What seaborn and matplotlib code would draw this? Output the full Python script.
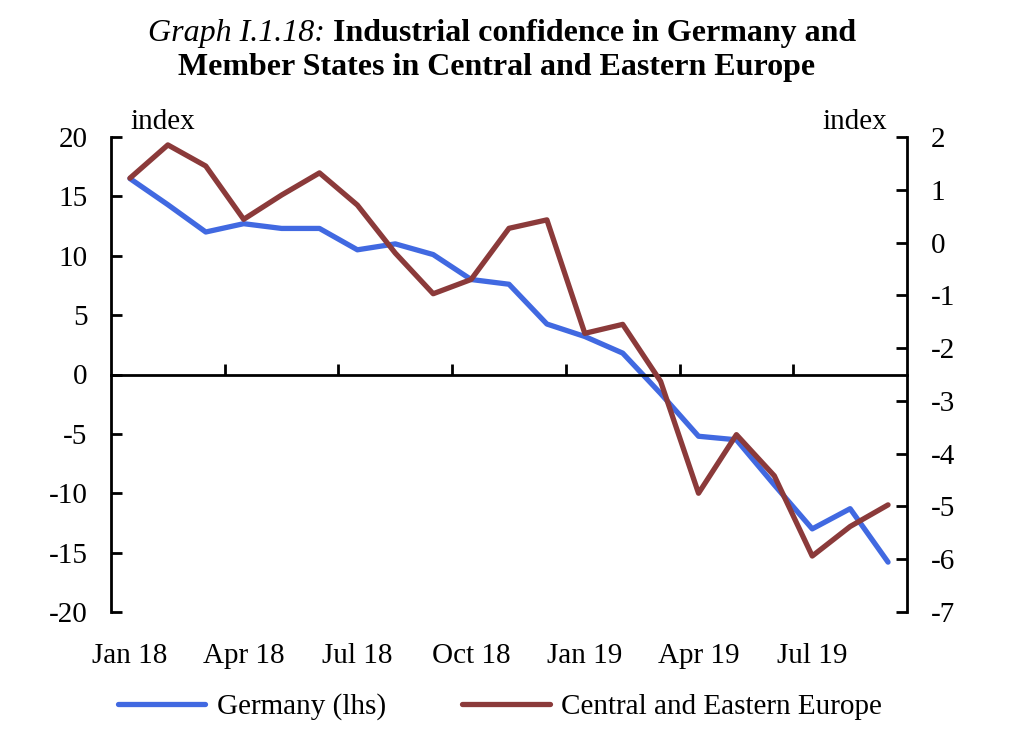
import matplotlib
matplotlib.use('Agg')
import matplotlib.pyplot as plt
import seaborn as sns
import pandas as pd

months = ['Jan 18', 'Feb 18', 'Mar 18', 'Apr 18', 'May 18', 'Jun 18', 'Jul 18',
          'Aug 18', 'Sep 18', 'Oct 18', 'Nov 18', 'Dec 18', 'Jan 19', 'Feb 19',
          'Mar 19', 'Apr 19', 'May 19', 'Jun 19', 'Jul 19', 'Aug 19', 'Sep 19']
germany = [16.5, 14.3, 12.0, 12.7, 12.3, 12.3, 10.5, 11.0, 10.1, 8.0, 7.6, 4.25,
           3.2, 1.8, -1.6, -5.2, -5.5, -9.3, -13.0, -11.3, -15.8]
cee = [1.22, 1.85, 1.45, 0.44, 0.9, 1.32, 0.71, -0.2, -0.97, -0.7, 0.27, 0.43,
       -1.72, -1.55, -2.63, -4.75, -3.64, -4.42, -5.94, -5.38, -4.97]
left_ticks = [-20, -15, -10, -5, 0, 5, 10, 15, 20]
right_ticks = [-7, -6, -5, -4, -3, -2, -1, 0, 1, 2]
x_labels = ['Jan 18', 'Apr 18', 'Jul 18', 'Oct 18', 'Jan 19', 'Apr 19', 'Jul 19']

sns.set_theme(style='white')
plt.rcParams['font.family'] = ['Liberation Serif', 'DejaVu Serif']
plt.rcParams['axes.unicode_minus'] = False
for k in ('text.color', 'axes.labelcolor', 'xtick.color', 'ytick.color'):
    plt.rcParams[k] = 'black'

df = pd.DataFrame({'idx': range(len(months)), 'month': months,
                   'germany': germany, 'cee': cee})

fig = plt.figure(figsize=(10.3, 7.32), dpi=100)
ax = fig.add_axes([111/1030, 1-612/732, (907-111)/1030, (612-137)/732])
ax2 = ax.twinx()

blue = '#4169E1'
red = '#8B3A3A'
sns.lineplot(data=df, x='idx', y='germany', ax=ax, color=blue, lw=3.8,
             label='Germany (lhs)', legend=False)
sns.lineplot(data=df, x='idx', y='cee', ax=ax2, color=red, lw=3.8,
             label='Central and Eastern Europe', legend=False)

fs = 21
ax.set_xlim(-0.5, len(months) - 0.5)
ax.set_ylim(-20, 20)
ax2.set_ylim(-7, 2)
ax.set_yticks(left_ticks, [str(t) for t in left_ticks])
ax2.set_yticks(right_ticks, [str(t) for t in right_ticks])
ax.set_xlabel('')
ax.set_ylabel('')
ax2.set_ylabel('')

for a in (ax, ax2):
    for s in a.spines.values():
        s.set_color('black')
        s.set_linewidth(2)
    a.spines['top'].set_visible(False)
    a.grid(False)
ax2.spines['bottom'].set_visible(False)
ax2.spines['left'].set_visible(False)
ax.spines['right'].set_visible(False)
ax.spines['bottom'].set_position(('data', 0))

ax.tick_params(axis='y', direction='in', length=8, width=2, pad=17,
               labelsize=fs, left=True, colors='black')
ax2.tick_params(axis='y', direction='in', length=8, width=2, pad=17,
                labelsize=fs, right=True, colors='black')
ax.set_xticks([2.5, 5.5, 8.5, 11.5, 14.5, 17.5])
ax.tick_params(axis='x', direction='in', length=8, width=2, bottom=True,
               labelbottom=False)

sec = ax.secondary_xaxis(0)
sec.set_xticks([0, 3, 6, 9, 12, 15, 18], x_labels)
sec.tick_params(axis='x', length=0, pad=22, labelsize=fs, colors='black')
sec.spines['bottom'].set_visible(False)

ax.text(0.024, 1.005, 'index', transform=ax.transAxes, ha='left', va='bottom',
        fontsize=fs)
ax.text(0.975, 1.005, 'index', transform=ax.transAxes, ha='right', va='bottom',
        fontsize=fs)

# Title
tfs = 23
y1 = 1 - 33/732
t1 = fig.text(0.3, y1, 'Graph I.1.18:', style='italic', ha='left', va='center',
              fontsize=tfs)
t2 = fig.text(0.5, y1, 'Industrial confidence in Germany and', weight='bold',
              ha='left', va='center', fontsize=tfs)
fig.canvas.draw()
r = fig.canvas.get_renderer()
w1 = t1.get_window_extent(r).width / fig.bbox.width
w2 = t2.get_window_extent(r).width / fig.bbox.width
gap = 8 / 1030
total = w1 + gap + w2
start = 502/1030 - total / 2
t1.set_x(start)
t2.set_x(start + w1 + gap)
fig.text(497/1030, 1 - 68/732, 'Member States in Central and Eastern Europe',
         weight='bold', ha='center', va='center', fontsize=tfs)

h1, l1 = ax.get_legend_handles_labels()
h2, l2 = ax2.get_legend_handles_labels()
fig.legend(h1 + h2, l1 + l2, loc='center', bbox_to_anchor=(500/1030, 1 - 707/732),
           ncol=2, frameon=False, fontsize=fs, handlelength=3.0,
           columnspacing=2.6, handletextpad=0.4)

fig.savefig('out.png', dpi=100)
